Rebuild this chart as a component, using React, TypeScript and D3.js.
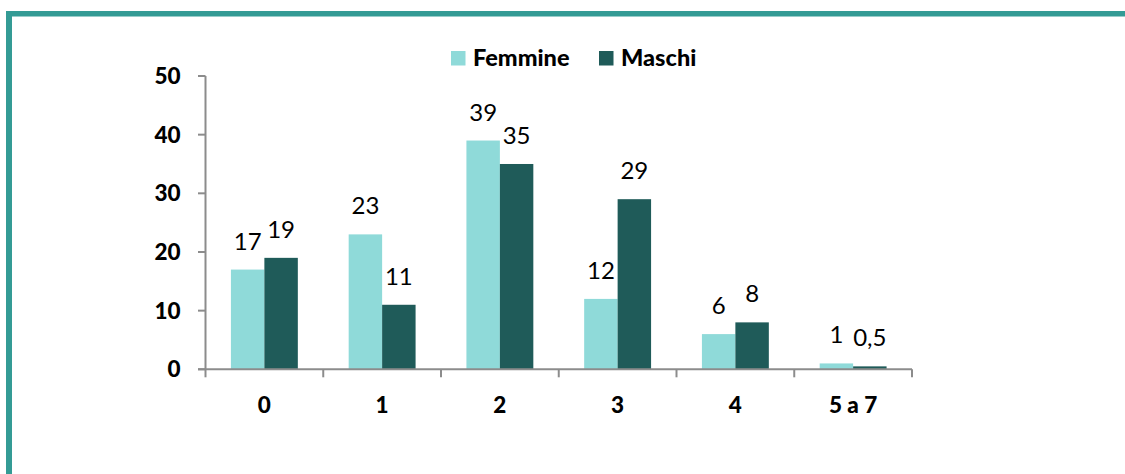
import * as d3 from "d3";

const categories = ["0", "1", "2", "3", "4", "5 a 7"];
const femmine = [17, 23, 39, 12, 6, 1];
const maschi = [19, 11, 35, 29, 8, 0.5];
const yTicks = [0, 10, 20, 30, 40, 50];
const seriesNames = ["Femmine", "Maschi"];

const colors = ["#8fdad9", "#1f5b59"];
const axisColor = "#8c8c8c";
const frameColor = "#349b95";
const font = "Lato, 'Open Sans', sans-serif";

const fmt = (v: number) => String(v).replace(".", ",");

const App = () => {
  const width = 1125;
  const height = 474;

  const x = d3
    .scaleBand()
    .domain(categories)
    .range([205.5, 912])
    .paddingInner(0)
    .paddingOuter(0);

  const inner = d3
    .scaleBand()
    .domain(seriesNames)
    .range([0, x.bandwidth()])
    .paddingInner(0)
    .paddingOuter(0.76);

  const y = d3.scaleLinear().domain([0, 50]).range([369.3, 76]);

  const series = [femmine, maschi];

  return (
    <svg
      width={width}
      height={height}
      style={{ position: "absolute", left: 0, top: 0, background: "#fff" }}
    >
      {/* frame */}
      <rect x={6} y={11} width={6} height={height} fill={frameColor} />
      <rect x={6} y={11} width={width} height={5.5} fill={frameColor} />

      {/* legend */}
      {seriesNames.map((s, i) => {
        const lx = i === 0 ? 451 : 599;
        return (
          <g key={s}>
            <rect x={lx} y={51} width={14.5} height={14.5} fill={colors[i]} />
            <text
              x={lx + 22}
              y={65.5}
              fontFamily={font}
              fontWeight="900"
              fontSize={23.5}
              fill="#000"
            >
              {s}
            </text>
          </g>
        );
      })}

      {/* bars */}
      {series.map((vals, si) =>
        vals.map((v, ci) => {
          const bx = (x(categories[ci]) ?? 0) + (inner(seriesNames[si]) ?? 0);
          const bw = inner.bandwidth();
          return (
            <g key={`${si}-${ci}`}>
              <rect
                x={bx}
                y={y(v)}
                width={bw}
                height={y(0) - y(v)}
                fill={colors[si]}
              />
              <text
                x={bx + bw / 2}
                y={y(v) - 20}
                textAnchor="middle"
                fontFamily={font}
                fontSize={24}
                fill="#000"
              >
                {fmt(v)}
              </text>
            </g>
          );
        })
      )}

      {/* y axis */}
      <line
        x1={205.5}
        x2={205.5}
        y1={y(50)}
        y2={y(0)}
        stroke={axisColor}
        strokeWidth={2}
      />
      {yTicks.map((t) => (
        <g key={t}>
          <line
            x1={198}
            x2={205.5}
            y1={y(t)}
            y2={y(t)}
            stroke={axisColor}
            strokeWidth={2}
          />
          <text
            x={180.5}
            y={y(t)}
            dy="0.36em"
            textAnchor="end"
            fontFamily={font}
            fontWeight="900"
            fontSize={22.5}
            fill="#000"
          >
            {t}
          </text>
        </g>
      ))}

      {/* x axis */}
      <line
        x1={198}
        x2={912}
        y1={y(0)}
        y2={y(0)}
        stroke={axisColor}
        strokeWidth={2}
      />
      {[...categories.map((c) => x(c) ?? 0), 912].map((tx, i) => (
        <line
          key={i}
          x1={tx}
          x2={tx}
          y1={y(0)}
          y2={y(0) + 8}
          stroke={axisColor}
          strokeWidth={2}
        />
      ))}
      {categories.map((c) => (
        <text
          key={c}
          x={(x(c) ?? 0) + x.bandwidth() / 2}
          y={412.5}
          textAnchor="middle"
          fontFamily={font}
          fontWeight="900"
          fontSize={22.5}
          fill="#000"
        >
          {c}
        </text>
      ))}
    </svg>
  );
};

export default App;
